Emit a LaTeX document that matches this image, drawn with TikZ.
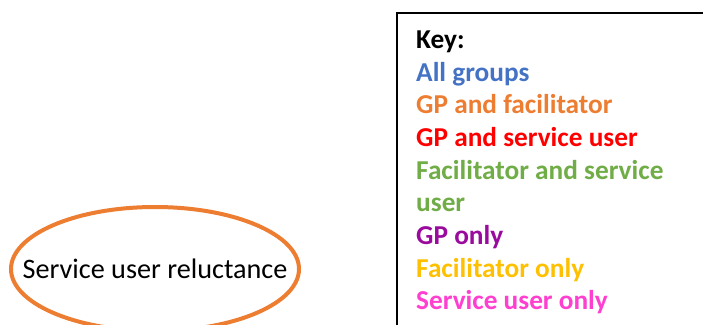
\documentclass[tikz,border=0pt]{standalone}
\usepackage{fontspec}
\setmainfont{Carlito}
\definecolor{cblue}{HTML}{4472C4}
\definecolor{corange}{HTML}{ED7D31}
\definecolor{cred}{HTML}{FF0000}
\definecolor{cgreen}{HTML}{70AD47}
\definecolor{cpurple}{HTML}{9A0A9E}
\definecolor{cyellow}{HTML}{FFC000}
\definecolor{cpink}{HTML}{FF3FCF}
\tikzset{
  keyline/.style={anchor=base west, inner sep=0pt, font=\fontsize{27.3}{32}\selectfont\bfseries},
  themetext/.style={anchor=base, inner sep=0pt, font=\fontsize{28.2}{33}\selectfont},
  themeoval/.style={draw=corange, line width=4pt}
}
\begin{document}
\begin{tikzpicture}[x=1pt,y=-1pt]
\useasboundingbox (0,0) rectangle (703,324);
\clip (0,0) rectangle (703,324);
\fill[white] (0,0) rectangle (703,324);
\draw[line width=2pt] (397,13) rectangle (740,360);
\node[themetext] (theme) at (155,278) {Service user reluctance};
\draw[themeoval] (155,269) ellipse [x radius=144, y radius=62];
\node[keyline] (k0) at (416,48.3) {Key:};
\node[keyline, text=cblue] (k1) at (416,81) {All groups};
\node[keyline, text=corange] (k2) at (416,113.7) {GP and facilitator};
\node[keyline, text=cred] (k3) at (416,146.4) {GP and service user};
\node[keyline, text=cgreen] (k4) at (416,179.1) {Facilitator and service};
\node[keyline, text=cgreen] (k5) at (416,211.8) {user};
\node[keyline, text=cpurple] (k6) at (416,244.5) {GP only};
\node[keyline, text=cyellow] (k7) at (416,277.2) {Facilitator only};
\node[keyline, text=cpink] (k8) at (416,309.9) {Service user only};
\end{tikzpicture}
\end{document}
